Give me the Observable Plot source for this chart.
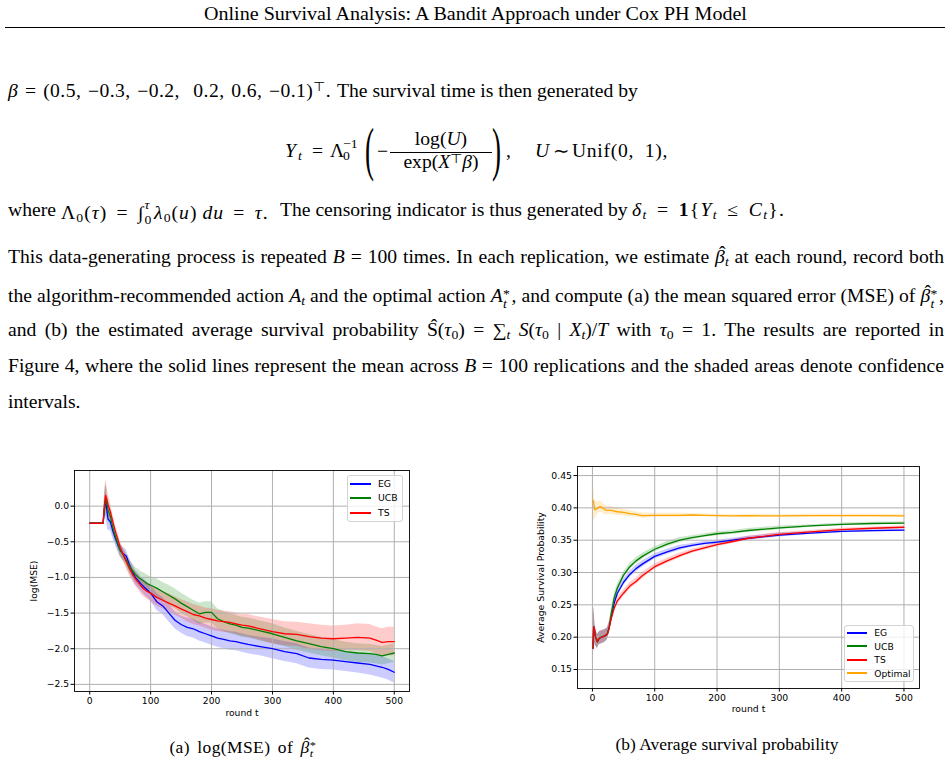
<!DOCTYPE html>
<html><head><meta charset="utf-8">
<script src="https://cdn.jsdelivr.net/npm/d3@7"></script>
<script src="https://cdn.jsdelivr.net/npm/@observablehq/plot@0.6"></script>
<style>
html,body{margin:0;padding:0;background:#fff;}
#page{position:relative;width:951px;height:762px;overflow:hidden;font-family:"Liberation Serif","Times New Roman",serif;color:#000;}
.p{position:absolute;white-space:nowrap;line-height:1;font-size:18px;}
.sx{transform:scaleX(1.09);transform-origin:0 0;}
.sc{transform:scaleX(1.09);transform-origin:50% 0;text-align:center;}
sub,sup{font-size:0.7em;line-height:0;position:relative;vertical-align:baseline;}
sub{top:0.22em;} sup{top:-0.42em;}
.ss{display:inline-block;position:relative;width:0.45em;height:1em;}
.ss>.u,.ss>.d{position:absolute;left:0.02em;font-size:0.7em;line-height:0.8;}
.ss>.u{top:-0.05em;} .ss>.d{top:1.12em;}
.ss>.st{top:0.37em;}
.hat{position:relative;display:inline-block;}
.hat::after{content:"\02C6";position:absolute;left:0.2em;top:-0.22em;font-style:normal;}
.j{text-align:justify;text-align-last:justify;width:858.7px;}
.leg{position:absolute;background:rgba(255,255,255,0.8);border:1px solid #d3d3d3;border-radius:3px;box-sizing:border-box;}
.li{position:absolute;height:2px;}
.lt{position:absolute;font-family:"DejaVu Sans";line-height:1;white-space:nowrap;}
.chart{position:absolute;top:460px;}
</style></head>
<body>
<div id="page">
  <div class="p sc" style="left:0;width:951px;top:5.3px;font-size:18.4px;">Online Survival Analysis: A Bandit Approach under Cox PH Model</div>
  <div style="position:absolute;left:5px;top:26.5px;width:940px;border-top:1px solid #000;"></div>

  <div id="mathB" class="p sx" style="left:8px;top:81.6px;"><i>β</i> = (0.5, −0.3, −0.2, &nbsp;0.2, 0.6, −0.1)<sup>⊤</sup>.</div>
  <div class="p sx" style="left:337px;top:81.6px;">The survival time is then generated by</div>

  <!-- display equation -->
  <div class="p sx" style="left:285px;top:141.6px;"><i>Y</i></div>
  <div class="p sx" style="left:298px;top:149.9px;font-size:12.6px;"><i>t</i></div>
  <div class="p sx" style="left:312px;top:141.6px;">=</div>
  <div class="p sx" style="left:330px;top:141.6px;">Λ</div>
  <div class="p sx" style="left:343px;top:137.9px;font-size:12.6px;">−1</div>
  <div class="p sx" style="left:343px;top:150.4px;font-size:12.6px;">0</div>
  <div class="p" style="left:365px;top:119.2px;font-size:60px;transform:scaleX(0.45);transform-origin:0 0;">(</div>
  <div class="p sx" style="left:377px;top:141.6px;">−</div>
  <div style="position:absolute;left:390px;top:152.3px;width:102px;border-top:1px solid #000;"></div>
  <div class="p sc" style="left:390px;width:102px;top:129.9px;">log(<i>U</i>)</div>
  <div class="p sc" style="left:390px;width:102px;top:153.2px;">exp(<i>X</i><sup>⊤</sup><i>β</i>)</div>
  <div class="p" style="left:492px;top:119.2px;font-size:60px;transform:scaleX(0.45);transform-origin:0 0;">)</div>
  <div class="p sx" style="left:506px;top:141.6px;">,</div>
  <div class="p sx" style="left:535px;top:141.6px;"><i>U</i></div>
  <div class="p sx" style="left:553px;top:141.6px;">∼</div>
  <div id="unif" class="p sx" style="left:572px;top:141.6px;">Unif(0, 1),</div>

  <div class="p sx" style="left:8px;top:200.9px;">where</div>
  <div id="where1" class="p sx" style="left:61px;top:200.9px;">Λ<sub>0</sub>(<i>τ</i>) = ∫<span class="ss" style="width:0.5em"><span class="u"><i>τ</i></span><span class="d">0</span></span><i>λ</i><sub>0</sub>(<i>u</i>)&thinsp;<i>du</i> = <i>τ</i>.</div>
  <div class="p sx" style="left:280px;top:200.9px;">The censoring indicator is thus generated by</div>
  <div id="where3" class="p sx" style="left:632px;top:200.9px;"><i>δ</i><sub><i>t</i></sub> = <b>1</b>{<i>Y</i><sub><i>t</i></sub> ≤ <i>C</i><sub><i>t</i></sub>}.</div>

  <div class="p sx j" style="left:8px;top:248.2px;">This data-generating process is repeated <i>B</i> = 100 times. In each replication, we estimate <span class="hat"><i>β</i></span><sub><i>t</i></sub> at each round, record both</div>
  <div class="p sx j" style="left:8px;top:284.4px;">the algorithm-recommended action <i>A</i><sub><i>t</i></sub> and the optimal action <i>A</i><span class="ss"><span class="u st">*</span><span class="d"><i>t</i></span></span>, and compute (a) the mean squared error (MSE) of <span class="hat"><i>β</i></span><span class="ss"><span class="u st">*</span><span class="d"><i>t</i></span></span>,</div>
  <div class="p sx j" style="left:8px;top:320.9px;">and (b) the estimated average survival probability <span class="hat">S</span>(<i>τ</i><sub>0</sub>) = ∑<sub><i>t</i></sub> <i>S</i>(<i>τ</i><sub>0</sub> | <i>X</i><sub><i>t</i></sub>)/<i>T</i> with <i>τ</i><sub>0</sub> = 1. The results are reported in</div>
  <div class="p sx j" style="left:8px;top:357.4px;">Figure 4, where the solid lines represent the mean across <i>B</i> = 100 replications and the shaded areas denote confidence</div>
  <div class="p sx" style="left:8px;top:393.4px;">intervals.</div>

  <div id="chartL" class="chart" style="left:0;"></div>
  <div id="chartR" class="chart" style="left:480px;"></div>
  <div id="legL"></div>
  <div id="legR"></div>

  <div class="p sc" style="left:93px;width:300px;top:736.6px;font-size:16px;"><span id="capA">(a) log(MSE) of <span class="hat"><i>β</i></span><span class="ss" style="width:0.4em"><span class="u st">*</span><span class="d"><i>t</i></span></span></span></div>
  <div class="p sc" style="left:577px;width:300px;top:736.6px;font-size:16px;">(b) Average survival probability</div>
</div>

<script>
// ---------- Left chart: log(MSE) ----------
const tL = [0,20,22,24,26,28,30,34,38,42,
            46,50,55,60,65,70,75,80,85,90,
            95,100,110,120,130,140,150,160,170,180,
            190,200,210,220,230,240,250,260,280,300,
            320,340,360,380,400,420,440,460,470,480,
            490,500];
const egL = [-0.24,-0.24,-0.24,-0.05,0.08,-0.05,-0.18,-0.22,-0.35,-0.45,
             -0.54,-0.62,-0.67,-0.70,-0.82,-0.92,-1.00,-1.05,-1.10,-1.14,
             -1.18,-1.22,-1.34,-1.40,-1.50,-1.60,-1.66,-1.70,-1.72,-1.76,
             -1.79,-1.82,-1.85,-1.87,-1.89,-1.90,-1.92,-1.94,-1.97,-2.00,
             -2.04,-2.07,-2.13,-2.15,-2.16,-2.18,-2.20,-2.22,-2.24,-2.26,
             -2.29,-2.33];
const ucbL = [-0.24,-0.24,-0.24,-0.05,0.10,0.05,-0.05,-0.15,-0.30,-0.42,
              -0.52,-0.62,-0.68,-0.76,-0.84,-0.90,-0.96,-1.00,-1.03,-1.06,
              -1.09,-1.11,-1.15,-1.20,-1.25,-1.30,-1.36,-1.41,-1.46,-1.51,
              -1.49,-1.49,-1.58,-1.62,-1.65,-1.67,-1.70,-1.71,-1.75,-1.79,
              -1.84,-1.89,-1.93,-1.97,-2.00,-2.04,-2.06,-2.07,-2.08,-2.10,
              -2.08,-2.06];
const tsL = [-0.24,-0.24,-0.24,0.00,0.15,0.10,0.02,-0.08,-0.22,-0.35,
             -0.46,-0.58,-0.68,-0.78,-0.87,-0.95,-1.02,-1.07,-1.13,-1.17,
             -1.20,-1.22,-1.28,-1.32,-1.36,-1.40,-1.44,-1.48,-1.52,-1.54,
             -1.57,-1.59,-1.61,-1.62,-1.63,-1.65,-1.67,-1.68,-1.72,-1.76,
             -1.79,-1.80,-1.83,-1.85,-1.86,-1.85,-1.84,-1.85,-1.88,-1.91,
             -1.90,-1.90];
// half-widths of the shaded confidence bands
const egHwL = [0.01,0.01,0.02,0.12,0.22,0.20,0.16,0.12,0.10,0.09,
               0.09,0.09,0.09,0.09,0.09,0.10,0.10,0.10,0.10,0.11,
               0.11,0.11,0.12,0.12,0.12,0.12,0.12,0.13,0.13,0.13,
               0.13,0.13,0.13,0.13,0.13,0.13,0.13,0.13,0.13,0.14,
               0.14,0.14,0.14,0.14,0.14,0.14,0.14,0.15,0.15,0.15,
               0.15,0.15];
const ucbHwL = [0.01,0.01,0.02,0.12,0.22,0.20,0.16,0.12,0.10,0.09,
                0.09,0.09,0.09,0.09,0.10,0.10,0.10,0.11,0.11,0.12,
                0.12,0.12,0.13,0.13,0.14,0.14,0.14,0.14,0.14,0.15,
                0.15,0.15,0.14,0.14,0.14,0.14,0.14,0.14,0.14,0.14,
                0.13,0.13,0.13,0.13,0.13,0.13,0.13,0.13,0.13,0.13,
                0.13,0.13];
const tsHwL = [0.01,0.01,0.02,0.12,0.22,0.20,0.16,0.12,0.10,0.09,
               0.09,0.09,0.09,0.09,0.10,0.10,0.10,0.10,0.11,0.11,
               0.11,0.12,0.12,0.12,0.13,0.13,0.13,0.14,0.14,0.14,
               0.14,0.15,0.15,0.15,0.15,0.15,0.15,0.16,0.16,0.17,
               0.17,0.17,0.18,0.18,0.18,0.18,0.19,0.19,0.19,0.19,
               0.20,0.20];

// ---------- Right chart: average survival probability ----------
const tR = [1,2,3,4,5,6,8,10,12,15,
            20,24,27,30,35,40,50,60,70,80,
            100,120,140,160,180,200,225,250,300,350,
            400,450,500];
const egR = [0.183,0.216,0.214,0.205,0.200,0.198,0.193,0.197,0.199,0.200,
             0.202,0.205,0.215,0.230,0.253,0.268,0.285,0.297,0.306,0.313,
             0.325,0.332,0.338,0.342,0.345,0.347,0.350,0.353,0.358,0.361,
             0.3635,0.3648,0.3655];
const ucbR = [0.183,0.216,0.214,0.205,0.200,0.198,0.193,0.197,0.199,0.200,
              0.202,0.205,0.215,0.235,0.261,0.276,0.296,0.309,0.318,0.325,
              0.336,0.344,0.350,0.354,0.357,0.360,0.362,0.365,0.369,0.372,
              0.3745,0.3758,0.3765];
const tsR = [0.183,0.216,0.214,0.205,0.200,0.198,0.193,0.197,0.199,0.200,
             0.202,0.205,0.215,0.228,0.245,0.256,0.268,0.279,0.286,0.295,
             0.309,0.318,0.326,0.333,0.338,0.343,0.348,0.353,0.359,0.363,
             0.3665,0.3685,0.370];
const optR = [0.412,0.408,0.400,0.397,0.397,0.398,0.399,0.401,0.402,0.401,
              0.397,0.396,0.396,0.396,0.395,0.394,0.393,0.391,0.390,0.388,
              0.3885,0.3885,0.3885,0.389,0.3885,0.388,0.3875,0.388,0.3875,0.388,
              0.388,0.388,0.3875];
const hwR = [0.050,0.030,0.022,0.016,0.014,0.012,0.011,0.010,0.010,0.010,
             0.010,0.009,0.008,0.007,0.006,0.006,0.005,0.005,0.005,0.005,
             0.004,0.004,0.004,0.003,0.003,0.003,0.003,0.003,0.003,0.002,
             0.002,0.002,0.002];
const optHwR = [0.035,0.025,0.020,0.015,0.013,0.012,0.010,0.009,0.009,0.008,
                0.007,0.007,0.006,0.006,0.006,0.006,0.005,0.005,0.004,0.004,
                0.003,0.003,0.003,0.002,0.002,0.002,0.002,0.002,0.002,0.002,
                0.002,0.002,0.002];

const namesL = ["EG","UCB","TS"];
const namesR = ["EG","UCB","TS","Optimal"];
const colorsL = ["blue","green","red"];
const colorsR = ["blue","green","red","orange"];
const xTicks = [0,100,200,300,400,500];
const yTicksL = [-2.5,-2,-1.5,-1,-0.5,0];
const yTicksR = [0.15,0.2,0.25,0.3,0.35,0.4,0.45];

function table(ts, series) {
  return series.flatMap(s => ts.map((t, i) => ({
    t, name: s.name, y: s.m[i], lo: s.m[i] - s.hw[i], hi: s.m[i] + s.hw[i]
  })));
}
const dataL = table(tL, [
  {name:"EG", m:egL, hw:egHwL}, {name:"UCB", m:ucbL, hw:ucbHwL}, {name:"TS", m:tsL, hw:tsHwL}
]);
const dataR = table(tR, [
  {name:"EG", m:egR, hw:hwR}, {name:"UCB", m:ucbR, hw:hwR}, {name:"TS", m:tsR, hw:hwR}, {name:"Optimal", m:optR, hw:optHwR}
]);

const gridStyle = {stroke:"#b0b0b0", strokeOpacity:1, strokeWidth:1};

function chart(o) {
  return Plot.plot({
    width:o.width, height:265,
    marginLeft:o.ml, marginRight:o.mr, marginTop:o.mt, marginBottom:o.mb,
    x:{domain:o.xd}, y:{domain:o.yd},
    color:{domain:o.names, range:o.colors},
    style:{fontFamily:"DejaVu Sans", fontSize:o.fs+"px", background:"transparent", overflow:"visible", color:"black"},
    marks:[
      Plot.areaY(o.data, {x:"t", y1:"lo", y2:"hi", fill:"name", fillOpacity:0.2}),
      Plot.gridX({ticks:xTicks, ...gridStyle}),
      Plot.gridY({ticks:o.yTicks, ...gridStyle}),
      Plot.line(o.data, {x:"t", y:"y", stroke:"name", strokeWidth:1.3}),
      Plot.frame({stroke:"black", strokeWidth:0.9}),
      Plot.axisX({ticks:xTicks, tickSize:3.5, tickPadding:2, tickFormat:"d", label:null}),
      Plot.axisY({ticks:o.yTicks, tickSize:3.5, tickPadding:2, tickFormat:d3.format(o.yfmt), label:null}),
      Plot.text(["round t"], {text:d=>d, frameAnchor:"bottom", dy:o.xlDy, fontSize:o.fs, textAnchor:"middle"}),
      Plot.text([o.ylabel], {text:d=>d, frameAnchor:"left", dx:o.ylDx, rotate:-90, fontSize:o.fs, textAnchor:"middle"})
    ]
  });
}

document.getElementById("chartL").appendChild(chart({
  width:480, ml:74, mr:71, mt:10, mb:34, xd:[-25,525], yd:[-2.6,0.5],
  names:namesL, colors:colorsL, data:dataL, yTicks:yTicksL, yfmt:".1f",
  fs:9.2, xlDy:24.5, ylDx:-40, ylabel:"log(MSE)"
}));
document.getElementById("chartR").appendChild(chart({
  width:471, ml:97, mr:32, mt:6, mb:37, xd:[-23.95,524.95], yd:[0.1206,0.464],
  names:namesR, colors:colorsR, data:dataR, yTicks:yTicksR, yfmt:".2f",
  fs:9.3, xlDy:23.5, ylDx:-36, ylabel:"Average Survival Probability"
}));

// legends drawn over the axes, as in the reference
function legend(id, box, names, colors, lineX0, lineX1, textX, ys, fs) {
  const el = document.getElementById(id);
  let html = `<div class="leg" style="left:${box[0]}px;top:${box[1]}px;width:${box[2]}px;height:${box[3]}px;"></div>`;
  names.forEach((n, i) => {
    html += `<div class="li" style="left:${lineX0}px;width:${lineX1-lineX0}px;top:${Math.round(ys[i]-1)}px;background:${colors[i]};"></div>`;
    html += `<div class="lt" style="left:${textX}px;top:${ys[i]-fs*0.5}px;font-size:${fs}px;">${n}</div>`;
  });
  el.innerHTML = html;
}
legend("legL", [346.7,475,56,46.7], namesL, colorsL, 350, 371, 378, [484,498,512.7], 9.3);
legend("legR", [844.3,624.7,69.7,57], namesR, colorsR, 846.7, 867.3, 874.3, [632.7,646.3,660,673.3], 9.2);

// widen the math runs to the widths they take in the reference typesetting:
// part of the extra room goes to the spaces, the rest between glyphs
function fit(id, target, wsShare) {
  const el = document.getElementById(id);
  const w = el.getBoundingClientRect().width;
  const txt = el.textContent;
  const n = txt.length;
  const spaces = (txt.match(/[ \u00a0\u2009]/g) || []).length;
  const extra = (target - w) / 1.09;
  const wsPart = spaces ? extra * wsShare : 0;
  el.style.wordSpacing = (spaces ? wsPart / spaces : 0) + "px";
  el.style.letterSpacing = ((extra - wsPart) / n) + "px";
}
fit("mathB", 323, 0.4);
fit("where1", 213, 0.4);
fit("where3", 153, 0.4);
fit("unif", 96, 0.4);
fit("capA", 148, 0.5);
</script>
</body></html>
